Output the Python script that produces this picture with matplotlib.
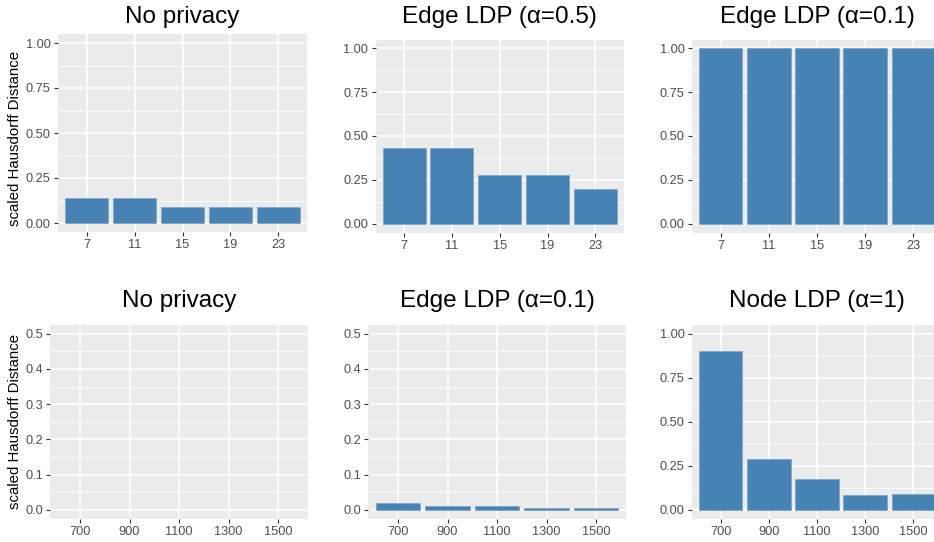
import matplotlib
matplotlib.use("Agg")
import matplotlib.pyplot as plt
import numpy as np
from matplotlib.ticker import FixedLocator

plt.rcParams['font.family'] = ['Liberation Sans', 'DejaVu Sans']

# ---- data ----
top_categories = ["7", "11", "15", "19", "23"]
bottom_categories = ["700", "900", "1100", "1300", "1500"]

top_titles = ["No privacy", "Edge LDP (α=0.5)", "Edge LDP (α=0.1)"]
bottom_titles = ["No privacy", "Edge LDP (α=0.1)", "Node LDP (α=1)"]

top_no_privacy = [0.14, 0.14, 0.09, 0.09, 0.09]
top_edge_05 = [0.43, 0.43, 0.28, 0.28, 0.20]
top_edge_01 = [1.0, 1.0, 1.0, 1.0, 1.0]

bottom_no_privacy = [0.0, 0.0, 0.0, 0.0, 0.0]
bottom_edge_01 = [0.02, 0.011, 0.011, 0.004, 0.004]
bottom_node_1 = [0.90, 0.29, 0.176, 0.081, 0.087]

y_ticks_unit = [0.0, 0.25, 0.5, 0.75, 1.0]
y_labels_unit = ["0.00", "0.25", "0.50", "0.75", "1.00"]
y_ticks_half = [0.0, 0.1, 0.2, 0.3, 0.4, 0.5]
y_labels_half = ["0.0", "0.1", "0.2", "0.3", "0.4", "0.5"]

ylabel = "scaled Hausdorff Distance"

# ---- style ----
W, H = 934, 542
BAR = "#4682B4"
BG = "#EBEBEB"
TICKC = "#4D4D4D"

fig = plt.figure(figsize=(W / 100, H / 100), dpi=100)


def rect(l, r, t, b):
    return [l / W, 1 - b / H, (r - l) / W, (b - t) / H]


def panel(box, cats, vals, title, yt, yl, ymax, title_base):
    ax = fig.add_axes(rect(*box))
    ax.set_facecolor(BG)
    for s in ax.spines.values():
        s.set_visible(False)
    x = np.arange(len(cats))
    lw = [0.6 if v > 0 else 0 for v in vals]
    ax.bar(x, vals, width=0.9, color=BAR, edgecolor="#7FA6CC", linewidth=lw, zorder=3)
    ax.set_xlim(-0.6, len(cats) - 0.4)
    ax.set_ylim(-0.05 * ymax, 1.05 * ymax)
    ax.set_xticks(x)
    ax.set_xticklabels(cats)
    ax.set_yticks(yt)
    ax.set_yticklabels(yl)
    step = yt[1] - yt[0]
    minors = [v + step / 2 for v in yt[:-1]]
    ax.yaxis.set_minor_locator(FixedLocator(minors))
    ax.grid(True, which="major", color="white", linewidth=1.15, zorder=0)
    ax.grid(True, which="minor", axis="y", color="white", linewidth=0.55, zorder=0)
    ax.set_axisbelow(True)
    ax.tick_params(axis="both", which="major", length=3.2, width=0.8, color="#333333",
                   labelcolor=TICKC, labelsize=9.2, pad=2.2)
    ax.tick_params(axis="y", which="minor", length=0)
    l, r, t, b = box
    fig.text(((l + r) / 2) / W, 1 - title_base / H, title, ha="center", va="baseline",
             fontsize=17.5, color="black")
    return ax


# top row
panel((58, 307, 34, 232), top_categories, top_no_privacy, top_titles[0],
      y_ticks_unit, y_labels_unit, 1.0, 22.7)
panel((375.5, 624, 39.5, 232.5), top_categories, top_edge_05, top_titles[1],
      y_ticks_unit, y_labels_unit, 1.0, 22.7)
panel((692, 942, 39.5, 232.5), top_categories, top_edge_01, top_titles[2],
      y_ticks_unit, y_labels_unit, 1.0, 22.7)

# bottom row
panel((50.3, 307.7, 325, 518.5), bottom_categories, bottom_no_privacy, bottom_titles[0],
      y_ticks_half, y_labels_half, 0.5, 306.7)
panel((368.3, 625.7, 325, 518.5), bottom_categories, bottom_edge_01, bottom_titles[1],
      y_ticks_half, y_labels_half, 0.5, 306.7)
panel((692, 942, 325, 518.5), bottom_categories, bottom_node_1, bottom_titles[2],
      y_ticks_unit, y_labels_unit, 1.0, 306.7)

# y-axis labels
fig.text(15 / W, 1 - 138 / H, ylabel, rotation=90, ha="center", va="center",
         fontsize=10.8, color="black")
fig.text(15 / W, 1 - 421.5 / H, ylabel, rotation=90, ha="center", va="center",
         fontsize=10.8, color="black")

fig.savefig("out.png", dpi=100, facecolor="white")
